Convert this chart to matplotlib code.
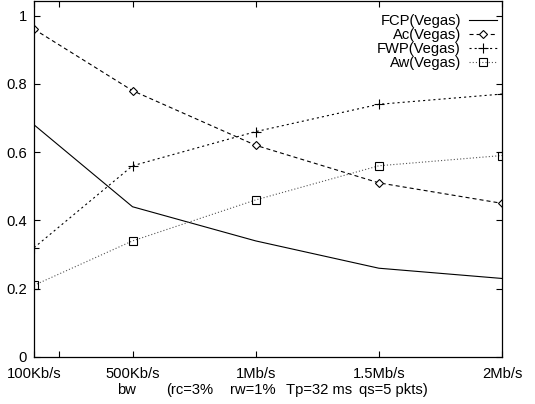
import matplotlib
matplotlib.use("Agg")
import matplotlib.pyplot as plt

plt.rcParams['font.family'] = ['Liberation Sans', 'DejaVu Sans']
plt.rcParams['lines.scale_dashes'] = False

bw = [0.1, 0.5, 1.0, 1.5, 2.0]
fcp = [0.68, 0.44, 0.34, 0.26, 0.23]
ac = [0.96, 0.78, 0.62, 0.51, 0.45]
fwp = [0.32, 0.56, 0.66, 0.74, 0.77]
aw = [0.21, 0.34, 0.46, 0.56, 0.59]

xtick_pos = [0.1, 0.2, 0.5, 1.0, 1.5, 2.0]
xtick_labels = ["100Kb/s", "", "500Kb/s", "1Mb/s", "1.5Mb/s", "2Mb/s"]
ytick_pos = [0, 0.2, 0.4, 0.6, 0.8, 1.0]
ytick_labels = ["0", "0.2", "0.4", "0.6", "0.8", "1"]

W, H = 535, 404
fig = plt.figure(figsize=(W / 100, H / 100), dpi=100)
ax = fig.add_axes([34 / W, (H - 357) / H, (502 - 34) / W, 356.5 / H])

fs = 10.6
ax.plot(bw, fcp, color='black', lw=0.8, label='FCP(Vegas)')
ax.plot(bw, ac, color='black', lw=0.8, dashes=(2.9, 2.2), marker='D', markersize=4,
        markerfacecolor='white', markeredgecolor='black', markeredgewidth=0.8, label='Ac(Vegas)')
ax.plot(bw, fwp, color='black', lw=0.8, dashes=(1.5, 2.2), marker='+', markersize=7,
        markeredgewidth=0.8, label='FWP(Vegas)')
ax.plot(bw, aw, color='#555555', lw=0.8, dashes=(0.8, 1.5), marker='s', markersize=5.5,
        markerfacecolor='none', markeredgecolor='black', markeredgewidth=0.8, label='Aw(Vegas)')

ax.set_xlim(0.1, 2.0)
ax.set_ylim(0, 1.044)
ax.set_xticks(xtick_pos)
ax.set_xticklabels(xtick_labels, fontsize=fs)
ax.set_yticks(ytick_pos)
ax.set_yticklabels(ytick_labels, fontsize=fs)
ax.tick_params(direction='in', length=4.5, width=0.8, top=True, right=True)
ax.tick_params(axis='y', pad=5)
ax.tick_params(axis='x', pad=7)
for s in ax.spines.values():
    s.set_linewidth(0.9)

leg = ax.legend(loc='upper right', bbox_to_anchor=(497 / W, (H - 14) / H),
                bbox_transform=fig.transFigure, frameon=False, markerfirst=False,
                fontsize=fs, handlelength=1.9, handletextpad=0.55, labelspacing=0.0,
                borderpad=0, borderaxespad=0, numpoints=1)

y2 = 1 - 390 / H
fig.text(117 / W, y2, "bw", fontsize=fs, ha='left', va='center')
fig.text(166 / W, y2, "(rc=3%", fontsize=fs, ha='left', va='center')
fig.text(230 / W, y2, "rw=1%", fontsize=fs, ha='left', va='center')
fig.text(286 / W, y2, "Tp=32 ms", fontsize=fs, ha='left', va='center')
fig.text(359 / W, y2, "qs=5 pkts)", fontsize=fs, ha='left', va='center')

fig.savefig("out.png", dpi=100)
